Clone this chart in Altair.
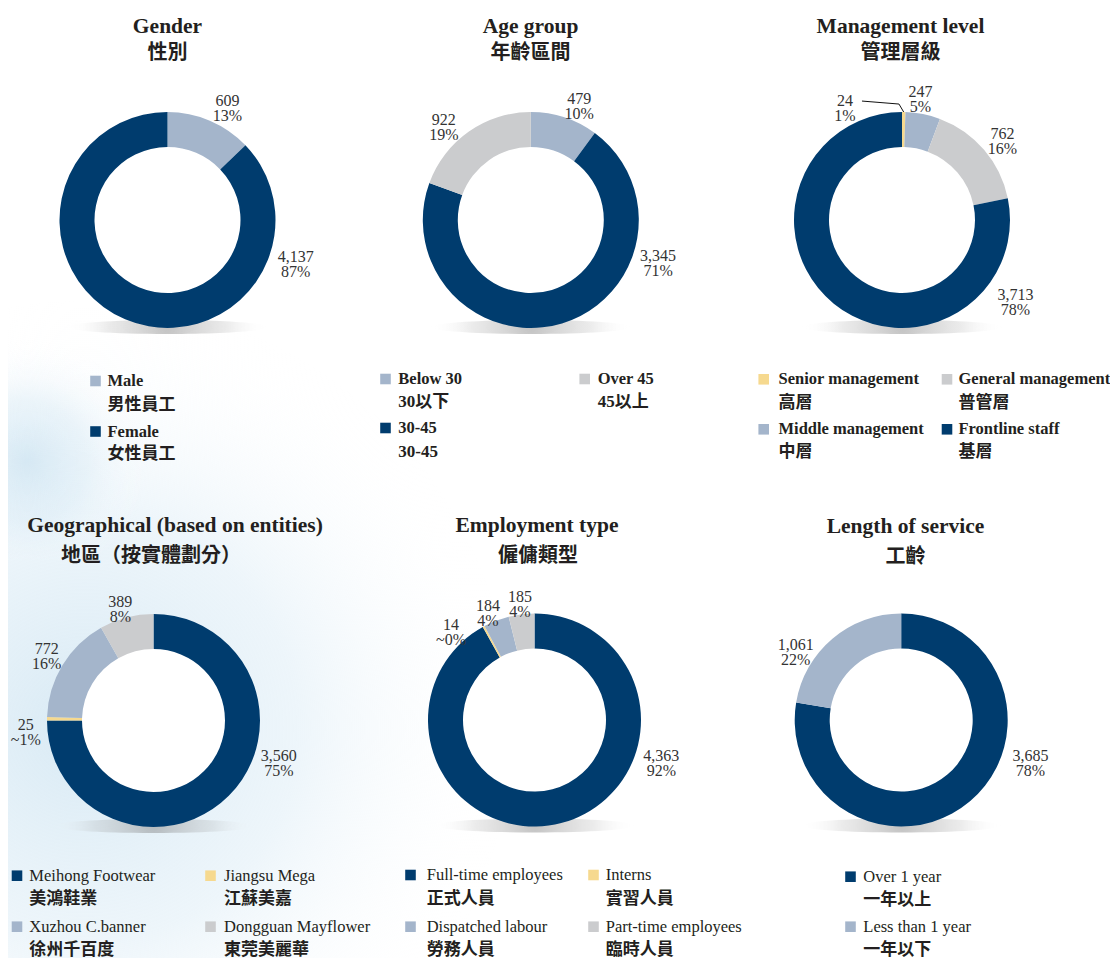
import math
import altair as alt
import pandas as pd

# ---------------- data ----------------
gender_en = ["Male", "Female"]
gender_zh = ["男性員工", "女性員工"]
gender_val = [609, 4137]
gender_pct = ["13%", "87%"]

age_en = ["Below 30", "30-45", "Over 45"]
age_zh = ["30以下", "30-45", "45以上"]
age_val = [479, 3345, 922]
age_pct = ["10%", "71%", "19%"]

mgmt_en = ["Senior management", "Middle management", "General management", "Frontline staff"]
mgmt_zh = ["高層", "中層", "普管層", "基層"]
mgmt_val = [24, 247, 762, 3713]
mgmt_pct = ["1%", "5%", "16%", "78%"]

geo_en = ["Meihong Footwear", "Jiangsu Mega", "Xuzhou C.banner", "Dongguan Mayflower"]
geo_zh = ["美鴻鞋業", "江蘇美嘉", "徐州千百度", "東莞美麗華"]
geo_val = [3560, 25, 772, 389]
geo_pct = ["75%", "~1%", "16%", "8%"]

emp_en = ["Full-time employees", "Interns", "Dispatched labour", "Part-time employees"]
emp_zh = ["正式人員", "實習人員", "勞務人員", "臨時人員"]
emp_val = [4363, 14, 184, 185]
emp_pct = ["92%", "~0%", "4%", "4%"]

svc_en = ["Over 1 year", "Less than 1 year"]
svc_zh = ["一年以上", "一年以下"]
svc_val = [3685, 1061]
svc_pct = ["78%", "22%"]

titles_en = ["Gender", "Age group", "Management level",
             "Geographical (based on entities)", "Employment type", "Length of service"]
titles_zh = ["性別", "年齡區間", "管理層級", "地區（按實體劃分）", "僱傭類型", "工齡"]

# ---------------- style / layout ----------------
W, H = 1102, 950
OFF = 8
NAVY, LBLUE, GREY, YEL = "#003c6e", "#a4b5cb", "#cbccce", "#f6d98f"
TXT, LBL = "#231f20", "#333333"
SERIF = "'Liberation Serif', 'Times New Roman', 'Noto Sans CJK TC', serif"
CJK = "'Noto Sans CJK TC', 'Noto Sans CJK SC', sans-serif"

panels = [
    dict(en=gender_en, zh=gender_zh, val=gender_val, pct=gender_pct, colors=[LBLUE, NAVY],
         cx=167.5, cy=220, ro=108, ri=73, tx=(167.5, 167.5), ty=(26.5, 52.5),
         lab=[(26.7, 133.4), (106, 133.4)],
         cells=[(0, 0), (0, 1)], sq=[95.5], tt=[107.5], ren=[381, 431.5], rzh=[405, 454], bold=True),
    dict(en=age_en, zh=age_zh, val=age_val, pct=age_pct, colors=[LBLUE, NAVY, GREY],
         cx=530.8, cy=220, ro=108, ri=73, tx=(530.5, 530.5), ty=(26.5, 52.5),
         lab=[(21.8, 130.5), (105.9, 132.3), (318.9, 132.3)],
         cells=[(0, 0), (0, 1), (1, 0)], sq=[385.5, 584.7], tt=[398.3, 597.7],
         ren=[379, 428], rzh=[402, 452], bold=True),
    dict(en=mgmt_en, zh=mgmt_zh, val=mgmt_val, pct=mgmt_pct, colors=[YEL, LBLUE, GREY, NAVY],
         cx=902, cy=220, ro=108, ri=73, tx=(900.5, 900.5), ty=(26.5, 52.5),
         lab=[(334.3, 131.7), (8.2, 129.3), (49.4, 132.3), (123.6, 136.3)],
         cells=[(0, 0), (0, 1), (1, 0), (1, 1)], sq=[763.7, 947], tt=[778.5, 958.5],
         ren=[379.3, 429.3], rzh=[402.7, 452.3], bold=True),
    dict(en=geo_en, zh=geo_zh, val=geo_val, pct=geo_pct, colors=[NAVY, YEL, LBLUE, GREY],
         cx=153.5, cy=720.5, ro=106.5, ri=71.5, tx=(175, 151), ty=(526, 556),
         lab=[(105.7, 130.2), (267.8, 127.8), (303.7, 128.4), (344.4, 123.4)],
         cells=[(0, 0), (1, 0), (0, 1), (1, 1)], sq=[17, 210.5], tt=[29.3, 224],
         ren=[875.7, 926.7], rzh=[898.5, 949.5], bold=False),
    dict(en=emp_en, zh=emp_zh, val=emp_val, pct=emp_pct, colors=[NAVY, YEL, LBLUE, GREY],
         cx=534.5, cy=720, ro=106.5, ri=71.5, tx=(537, 538), ty=(526, 556),
         lab=[(105.8, 131.8), (318.7, 126.5), (337.7, 122.7), (353.2, 123.4)],
         cells=[(0, 0), (1, 0), (0, 1), (1, 1)], sq=[410.5, 593.5], tt=[426.7, 605.7],
         ren=[875, 926.7], rzh=[898.5, 949.5], bold=False),
    dict(en=svc_en, zh=svc_zh, val=svc_val, pct=svc_pct, colors=[NAVY, LBLUE],
         cx=901.2, cy=720, ro=106.5, ri=71.5, tx=(905.5, 905.5), ty=(527, 557),
         lab=[(105.5, 134.2), (305.4, 129.4)],
         cells=[(0, 0), (0, 1)], sq=[850.5], tt=[863.3],
         ren=[876.7, 926.7], rzh=[900, 949.5], bold=False),
]

# leader line for the tiny "Senior management" slice (polar: angle deg, radius px)
leader_ang = [341.4, 358.5, 0.9]
leader_r = [125.5, 116, 108]

all_en, all_col = [], []
for p in panels:
    for e, c in zip(p["en"], p["colors"]):
        all_en.append(e)
        all_col.append(c)
COLOR = alt.Scale(domain=all_en, range=all_col)
XS = alt.Scale(domain=[0, W], range=[0, W], nice=False, zero=False)
YS = alt.Scale(domain=[0, H], range=[0, H], nice=False, zero=False)

layers = []

# soft watercolour wash on the left
bg = pd.DataFrame({"x": [0, 0], "x2": [620, 170], "y": [300 - OFF, 340 - OFF],
                   "y2": [H + 120, 560 - OFF]})
layers.append(
    alt.Chart(bg).mark_rect(
        fill=alt.RadialGradient(
            gradient="radial", x1=0.2, y1=0.55, r1=0.0, x2=0.2, y2=0.55, r2=0.55,
            stops=[alt.GradientStop(color="rgba(200,225,240,0.7)", offset=0),
                   alt.GradientStop(color="rgba(216,234,245,0.45)", offset=0.5),
                   alt.GradientStop(color="rgba(255,255,255,0)", offset=1)])
    ).encode(x=alt.X("x:Q", scale=XS, axis=None), x2="x2:Q",
             y=alt.Y("y:Q", scale=YS, axis=None), y2="y2:Q")
)

# shadows below each donut
sh = pd.DataFrame({"x": [p["cx"] - OFF for p in panels],
                   "y": [p["cy"] + p["ro"] - 1 - OFF for p in panels]})
layers.append(
    alt.Chart(sh).mark_point(
        shape="M-1,0A1,0.07,0,1,1,1,0A1,0.07,0,1,1,-1,0Z", size=40000, filled=True,
        opacity=1, strokeWidth=0,
        fill=alt.RadialGradient(
            gradient="radial", x1=0.5, y1=0.5, r1=0, x2=0.5, y2=0.5, r2=0.5,
            stops=[alt.GradientStop(color="rgba(120,120,120,0.45)", offset=0),
                   alt.GradientStop(color="rgba(160,160,160,0.2)", offset=0.6),
                   alt.GradientStop(color="rgba(255,255,255,0)", offset=1)])
    ).encode(x=alt.X("x:Q", scale=XS, axis=None), y=alt.Y("y:Q", scale=YS, axis=None))
)

# donuts (white hole + ring)
for p in panels:
    hole = pd.DataFrame({"v": [1]})
    layers.append(
        alt.Chart(hole).mark_arc(innerRadius=0, outerRadius=p["ri"] + 1, color="white").encode(
            theta=alt.Theta("v:Q"),
            x=alt.value(p["cx"] - OFF), y=alt.value(p["cy"] - OFF),
        )
    )
    df = pd.DataFrame({"en": p["en"], "val": p["val"], "idx": list(range(len(p["en"])))})
    layers.append(
        alt.Chart(df).mark_arc(innerRadius=p["ri"], outerRadius=p["ro"]).encode(
            theta=alt.Theta("val:Q", stack=True),
            order=alt.Order("idx:Q", sort="ascending"),
            color=alt.Color("en:N", scale=COLOR, legend=None),
            x=alt.value(p["cx"] - OFF), y=alt.value(p["cy"] - OFF),
        )
    )

# leader line
mg = panels[2]
ld = pd.DataFrame({"ang": leader_ang, "r": leader_r, "i": [0, 1, 2]})
layers.append(
    alt.Chart(ld).transform_calculate(
        px=f"{mg['cx'] - OFF} + datum.r * sin(datum.ang * PI / 180)",
        py=f"{mg['cy'] - OFF} - datum.r * cos(datum.ang * PI / 180)",
    ).mark_line(color="#111111", strokeWidth=1).encode(
        x=alt.X("px:Q", scale=XS, axis=None), y=alt.Y("py:Q", scale=YS, axis=None),
        order="i:Q")
)

# value labels
for p in panels:
    df = pd.DataFrame({
        "lab": [f"{v:,}\n{pc}" for v, pc in zip(p["val"], p["pct"])],
        "ang": [a for a, _ in p["lab"]],
        "r": [r for _, r in p["lab"]],
    })
    layers.append(
        alt.Chart(df).mark_text(font=SERIF, fontSize=16, lineBreak="\n", lineHeight=15,
                                color=LBL, align="center", baseline="middle").encode(
            theta=alt.Theta("ang:Q", stack=False,
                            scale=alt.Scale(domain=[0, 360], range=[0, 2 * math.pi])),
            radius=alt.Radius("r:Q", scale=None),
            text="lab:N",
            x=alt.value(p["cx"] - OFF), y=alt.value(p["cy"] - OFF),
        )
    )

# titles
ten = pd.DataFrame({"t": titles_en, "x": [p["tx"][0] - OFF for p in panels],
                    "y": [p["ty"][0] - OFF for p in panels]})
tzh = pd.DataFrame({"t": titles_zh, "x": [p["tx"][1] - OFF for p in panels],
                    "y": [p["ty"][1] - OFF for p in panels]})
layers.append(
    alt.Chart(ten).mark_text(font=SERIF, fontSize=21.5, fontWeight="bold", color=TXT,
                             align="center", baseline="middle").encode(
        x=alt.X("x:Q", scale=XS, axis=None), y=alt.Y("y:Q", scale=YS, axis=None), text="t:N")
)
layers.append(
    alt.Chart(tzh).mark_text(font=CJK, fontSize=20, fontWeight="bold", color=TXT,
                             align="center", baseline="middle").encode(
        x=alt.X("x:Q", scale=XS, axis=None), y=alt.Y("y:Q", scale=YS, axis=None), text="t:N")
)

# legends
rows = []
for p in panels:
    for (e, z, (c, r)) in zip(p["en"], p["zh"], p["cells"]):
        rows.append(dict(en=e, zh=z, sx=p["sq"][c] - OFF, tx=p["tt"][c] - OFF,
                         ey=p["ren"][r] - OFF, zy=p["rzh"][r] - OFF, bold=p["bold"]))
leg = pd.DataFrame(rows)
leg_top = leg[leg["bold"]].drop(columns="bold")
leg_bot = leg[~leg["bold"]].drop(columns="bold")

layers.append(
    alt.Chart(leg.drop(columns="bold")).mark_square(size=112, opacity=1, filled=True).encode(
        x=alt.X("sx:Q", scale=XS, axis=None), y=alt.Y("ey:Q", scale=YS, axis=None),
        color=alt.Color("en:N", scale=COLOR, legend=None))
)
for d, wt in ((leg_top, "bold"), (leg_bot, "normal")):
    layers.append(
        alt.Chart(d).mark_text(font=SERIF, fontSize=16.5, fontWeight=wt, color=TXT,
                               align="left", baseline="middle").encode(
            x=alt.X("tx:Q", scale=XS, axis=None), y=alt.Y("ey:Q", scale=YS, axis=None),
            text="en:N")
    )
    layers.append(
        alt.Chart(d).mark_text(font=SERIF, fontSize=17, fontWeight="bold", color=TXT,
                               align="left", baseline="middle").encode(
            x=alt.X("tx:Q", scale=XS, axis=None), y=alt.Y("zy:Q", scale=YS, axis=None),
            text="zh:N")
    )

chart = alt.layer(*layers).resolve_scale(
    theta="independent", radius="independent"
).properties(
    width=W, height=H, padding=0, autosize=alt.AutoSizeParams(type="none"),
    background="white",
).configure_view(stroke=None)

chart.save("out.html", embed_options={"renderer": "svg", "actions": False})
